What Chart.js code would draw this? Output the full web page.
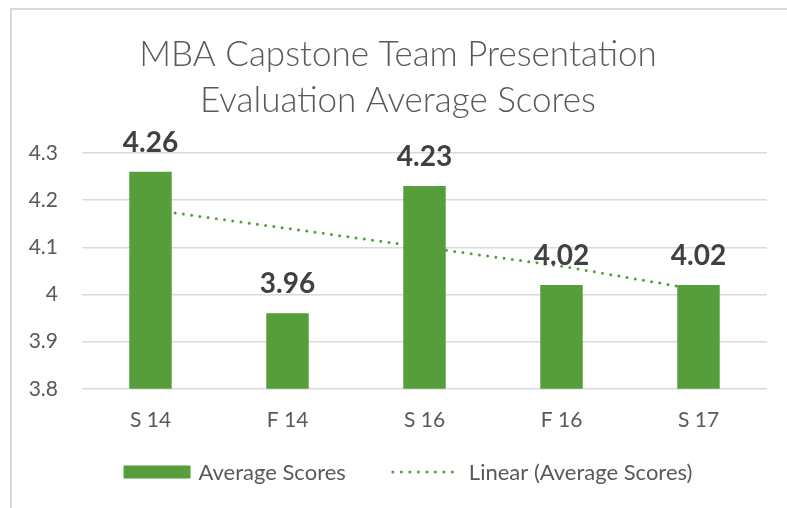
<!DOCTYPE html>
<html>
<head>
<meta charset="utf-8">
<script src="https://cdn.jsdelivr.net/npm/chart.js@4.4.1/dist/chart.umd.min.js"></script>
<style>
    body { margin: 0; background: #fff; overflow: hidden; }
    #wrap { position: relative; width: 787px; height: 508px; }
    #marco { position: absolute; left: 10px; top: 8px; width: 800px; height: 520px; border-top: 2px solid #d9d9d9; border-left: 2px solid #d9d9d9; }
    canvas { position: absolute; left: 0; top: 0; }
</style>
</head>
<body>
<div id="wrap">
    <div id="marco"></div>
    <canvas id="canvasPromedios" width="787" height="508"></canvas>
</div>
<script>
var semestres = ['S 14', 'F 14', 'S 16', 'F 16', 'S 17'];
var promedios = [4.26, 3.96, 4.23, 4.02, 4.02];
// linea de tendencia
var tendencia = [4.18, 4.14, 4.10, 4.06, 4.01];
var etiquetasY = ['3.8', '3.9', '4', '4.1', '4.2', '4.3'];
var nombres = ['Average Scores', 'Linear (Average Scores)'];
var titulo = ['MBA Capstone Team Presentation', 'Evaluation Average Scores'];

var verde = '#559E3B';
var gris = '#595959';

var etiquetasBarras = {
    id: 'etiquetasBarras',
    afterDatasetsDraw: function (chart) {
        var ctx = chart.ctx;
        var meta = chart.getDatasetMeta(0);
        ctx.save();
        ctx.font = 'bold 28px Lato';
        ctx.fillStyle = '#404040';
        ctx.textAlign = 'center';
        ctx.textBaseline = 'alphabetic';
        meta.data.forEach(function (bar, i) {
            ctx.fillText(promedios[i].toFixed(2), bar.x, bar.y - 20);
        });
        ctx.restore();
    }
};

// leyenda dibujada a mano, la de Chart.js no deja separar tanto los items
var leyenda = {
    id: 'leyenda',
    afterDraw: function (chart) {
        var ctx = chart.ctx;
        var y = chart.height - 36;
        ctx.save();
        ctx.font = '22px Lato';
        var w1 = ctx.measureText(nombres[0]).width;
        var w2 = ctx.measureText(nombres[1]).width;
        var total = 67 + 8 + w1 + 45 + 70 + 8 + w2;
        var x = 408 - total / 2;

        ctx.fillStyle = verde;
        ctx.fillRect(x, y - 6.5, 67, 13);
        ctx.fillStyle = gris;
        ctx.textBaseline = 'middle';
        ctx.fillText(nombres[0], x + 75, y + 1);

        x = x + 75 + w1 + 45;
        ctx.strokeStyle = verde;
        ctx.lineWidth = 3;
        ctx.lineCap = 'round';
        ctx.setLineDash([0, 8.5]);
        ctx.beginPath();
        ctx.moveTo(x + 2, y);
        ctx.lineTo(x + 70, y);
        ctx.stroke();
        ctx.fillText(nombres[1], x + 78, y + 1);
        ctx.restore();
    }
};

var ctx = document.getElementById('canvasPromedios').getContext('2d');
var chartPromedios = new Chart(ctx, {
    type: 'bar',
    data: {
        labels: semestres,
        datasets: [{
            label: nombres[0],
            data: promedios,
            backgroundColor: verde,
            barPercentage: 0.31,
            categoryPercentage: 1,
            order: 1
        }, {
            type: 'line',
            label: nombres[1],
            data: tendencia,
            borderColor: verde,
            borderWidth: 3,
            borderDash: [0, 8.3],
            borderCapStyle: 'round',
            pointRadius: 0,
            fill: false,
            tension: 0,
            order: 2
        }]
    },
    options: {
        responsive: false,
        animation: false,
        layout: {
            padding: { left: 29, right: 20, top: 0, bottom: 56 }
        },
        scales: {
            x: {
                grid: { display: false, drawTicks: false },
                border: { display: false },
                ticks: { color: gris, font: { family: 'Lato', size: 21 }, padding: 19 }
            },
            y: {
                min: 3.8,
                max: 4.3,
                afterFit: function (scale) { scale.width = 53; },
                grid: { color: '#d9d9d9', lineWidth: 1.5, drawTicks: false },
                border: { display: false },
                ticks: {
                    stepSize: 0.1,
                    color: gris,
                    font: { family: 'Lato', size: 21 },
                    padding: 24,
                    callback: function (v) {
                        return etiquetasY.find(function (t) { return Math.abs(parseFloat(t) - v) < 1e-6; });
                    }
                }
            }
        },
        plugins: {
            legend: { display: false },
            tooltip: { enabled: false },
            title: {
                display: true,
                text: titulo,
                color: gris,
                font: { family: 'Lato', size: 35, weight: 300, lineHeight: 1.3 },
                padding: { top: 32, bottom: 30 }
            }
        }
    },
    plugins: [etiquetasBarras, leyenda]
});
</script>
</body>
</html>
